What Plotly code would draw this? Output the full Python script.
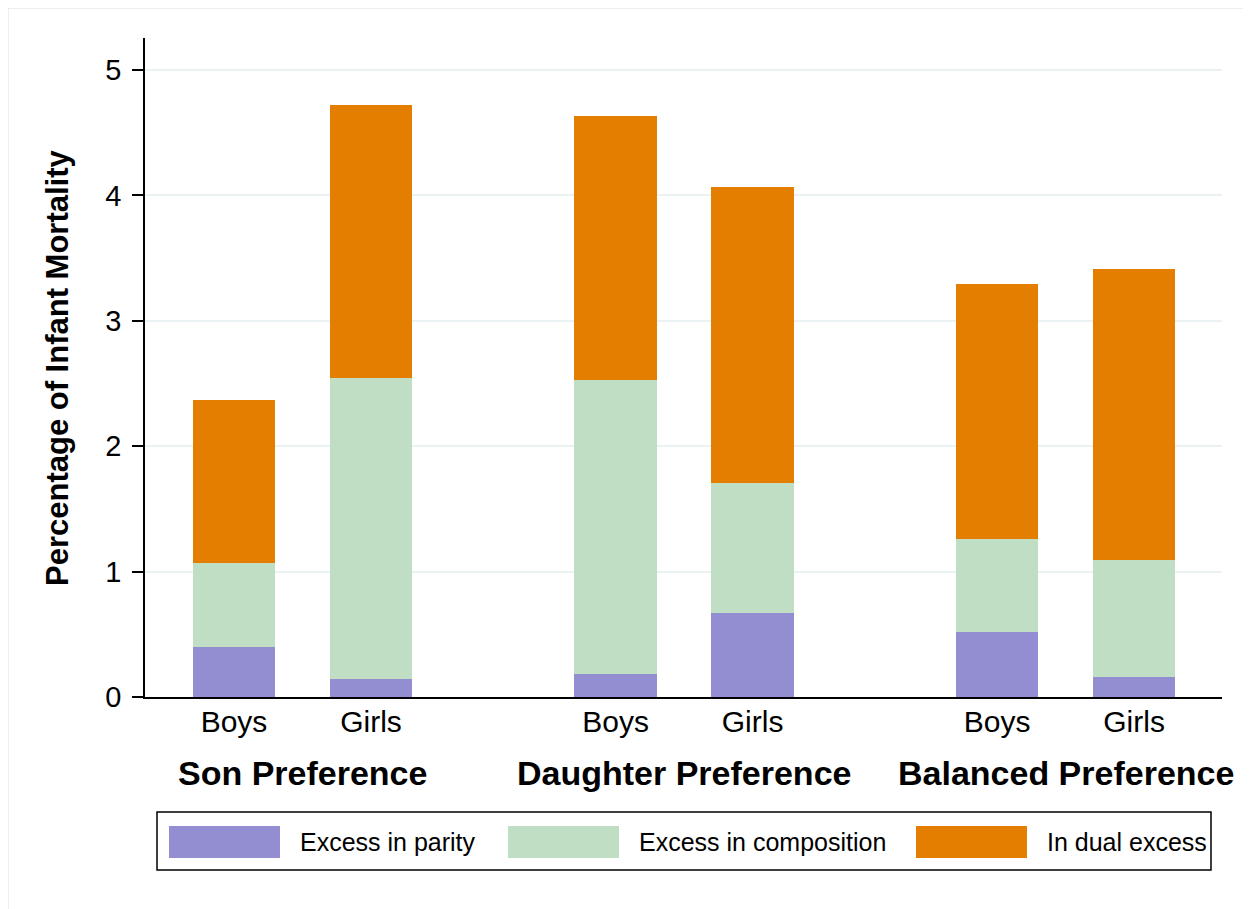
import plotly.graph_objects as go

groups = ["Son Preference", "Daughter Preference", "Balanced Preference"]
sexes = ["Boys", "Girls"]
# order: Son Boys, Son Girls, Daughter Boys, Daughter Girls, Balanced Boys, Balanced Girls
parity = [0.40, 0.14, 0.18, 0.67, 0.52, 0.16]
composition = [0.67, 2.40, 2.35, 1.04, 0.74, 0.93]
dual = [1.30, 2.18, 2.10, 2.36, 2.03, 2.32]
series_names = ["Excess in parity", "Excess in composition", "In dual excess"]
colors = ["#938dd2", "#bfdec3", "#e37e00"]

# layout positions
GROUP_STEP = 2.785
positions = [gi * GROUP_STEP + si for gi in range(len(groups)) for si in range(len(sexes))]
ticktext = [s for _ in groups for s in sexes]

OFF = 8  # page offset of the figure
W, H = 1251, 909
L, R, T, B = 145 - OFF, 1222 - OFF, 38 - OFF, 697 - OFF

def px2paper_x(px):
    return (px - OFF - L) / (R - L)

def px2paper_y(py):
    return (B - (py - OFF)) / (B - T)

fig = go.Figure()
for name, vals, col in zip(series_names, [parity, composition, dual], colors):
    fig.add_trace(go.Bar(x=positions, y=vals, name=name, marker=dict(color=col, line=dict(width=0)),
                         width=0.6, showlegend=False))

x_left = -89 / 137
x_right = (1222 - 234) / 137

font_family = "Liberation Sans, Arial, sans-serif"

fig.update_layout(
    barmode="stack",
    width=W, height=H,
    margin=dict(l=L, r=W - R, t=T, b=H - B),
    paper_bgcolor="white",
    plot_bgcolor="white",
    font=dict(family=font_family, color="black"),
    xaxis=dict(range=[x_left, x_right], tickvals=positions, ticktext=ticktext,
               showgrid=False, zeroline=False, showline=True, linecolor="black", linewidth=1.5,
               ticks="", tickfont=dict(size=30), ticklabelstandoff=-3),
    yaxis=dict(range=[0, (697 - 38) / 125.4], tickvals=[0, 1, 2, 3, 4, 5],
               showgrid=True, gridcolor="#eaf2f3", gridwidth=2, zeroline=False,
               showline=True, linecolor="black", linewidth=1.5,
               ticks="outside", ticklen=11, tickcolor="black", tickwidth=1.5,
               tickfont=dict(size=29), ticklabelstandoff=5),
)

# y-axis title
fig.add_annotation(x=px2paper_x(57), xref="paper", y=px2paper_y(368), yref="paper",
                   text="<b>Percentage of Infant Mortality</b>", textangle=-90, showarrow=False,
                   font=dict(size=31), xanchor="center", yanchor="middle")

# group labels
for gi, g in enumerate(groups):
    center = gi * GROUP_STEP + 0.5
    fig.add_annotation(x=center, xref="x", y=px2paper_y(773), yref="paper",
                       text=f"<b>{g}</b>", showarrow=False, font=dict(size=34),
                       xanchor="center", yanchor="middle")

# outer frame
fig.add_shape(type="rect", xref="paper", yref="paper",
              x0=px2paper_x(8), x1=px2paper_x(1262), y0=px2paper_y(8), y1=px2paper_y(920),
              line=dict(color="#e3ecee", width=1.5), fillcolor="rgba(0,0,0,0)", layer="below")

# legend box
fig.add_shape(type="rect", xref="paper", yref="paper",
              x0=px2paper_x(157), x1=px2paper_x(1211), y0=px2paper_y(812), y1=px2paper_y(870),
              line=dict(color="black", width=1.5), fillcolor="white")
sw_x = [169, 508, 916]
for sx, name, col in zip(sw_x, series_names, colors):
    fig.add_shape(type="rect", xref="paper", yref="paper",
                  x0=px2paper_x(sx), x1=px2paper_x(sx + 111), y0=px2paper_y(826), y1=px2paper_y(858),
                  line=dict(width=0), fillcolor=col)
    fig.add_annotation(x=px2paper_x(sx + 129), xref="paper", y=px2paper_y(842), yref="paper",
                       text=name, showarrow=False, font=dict(size=25),
                       xanchor="left", yanchor="middle")

fig.write_html("out.html")
